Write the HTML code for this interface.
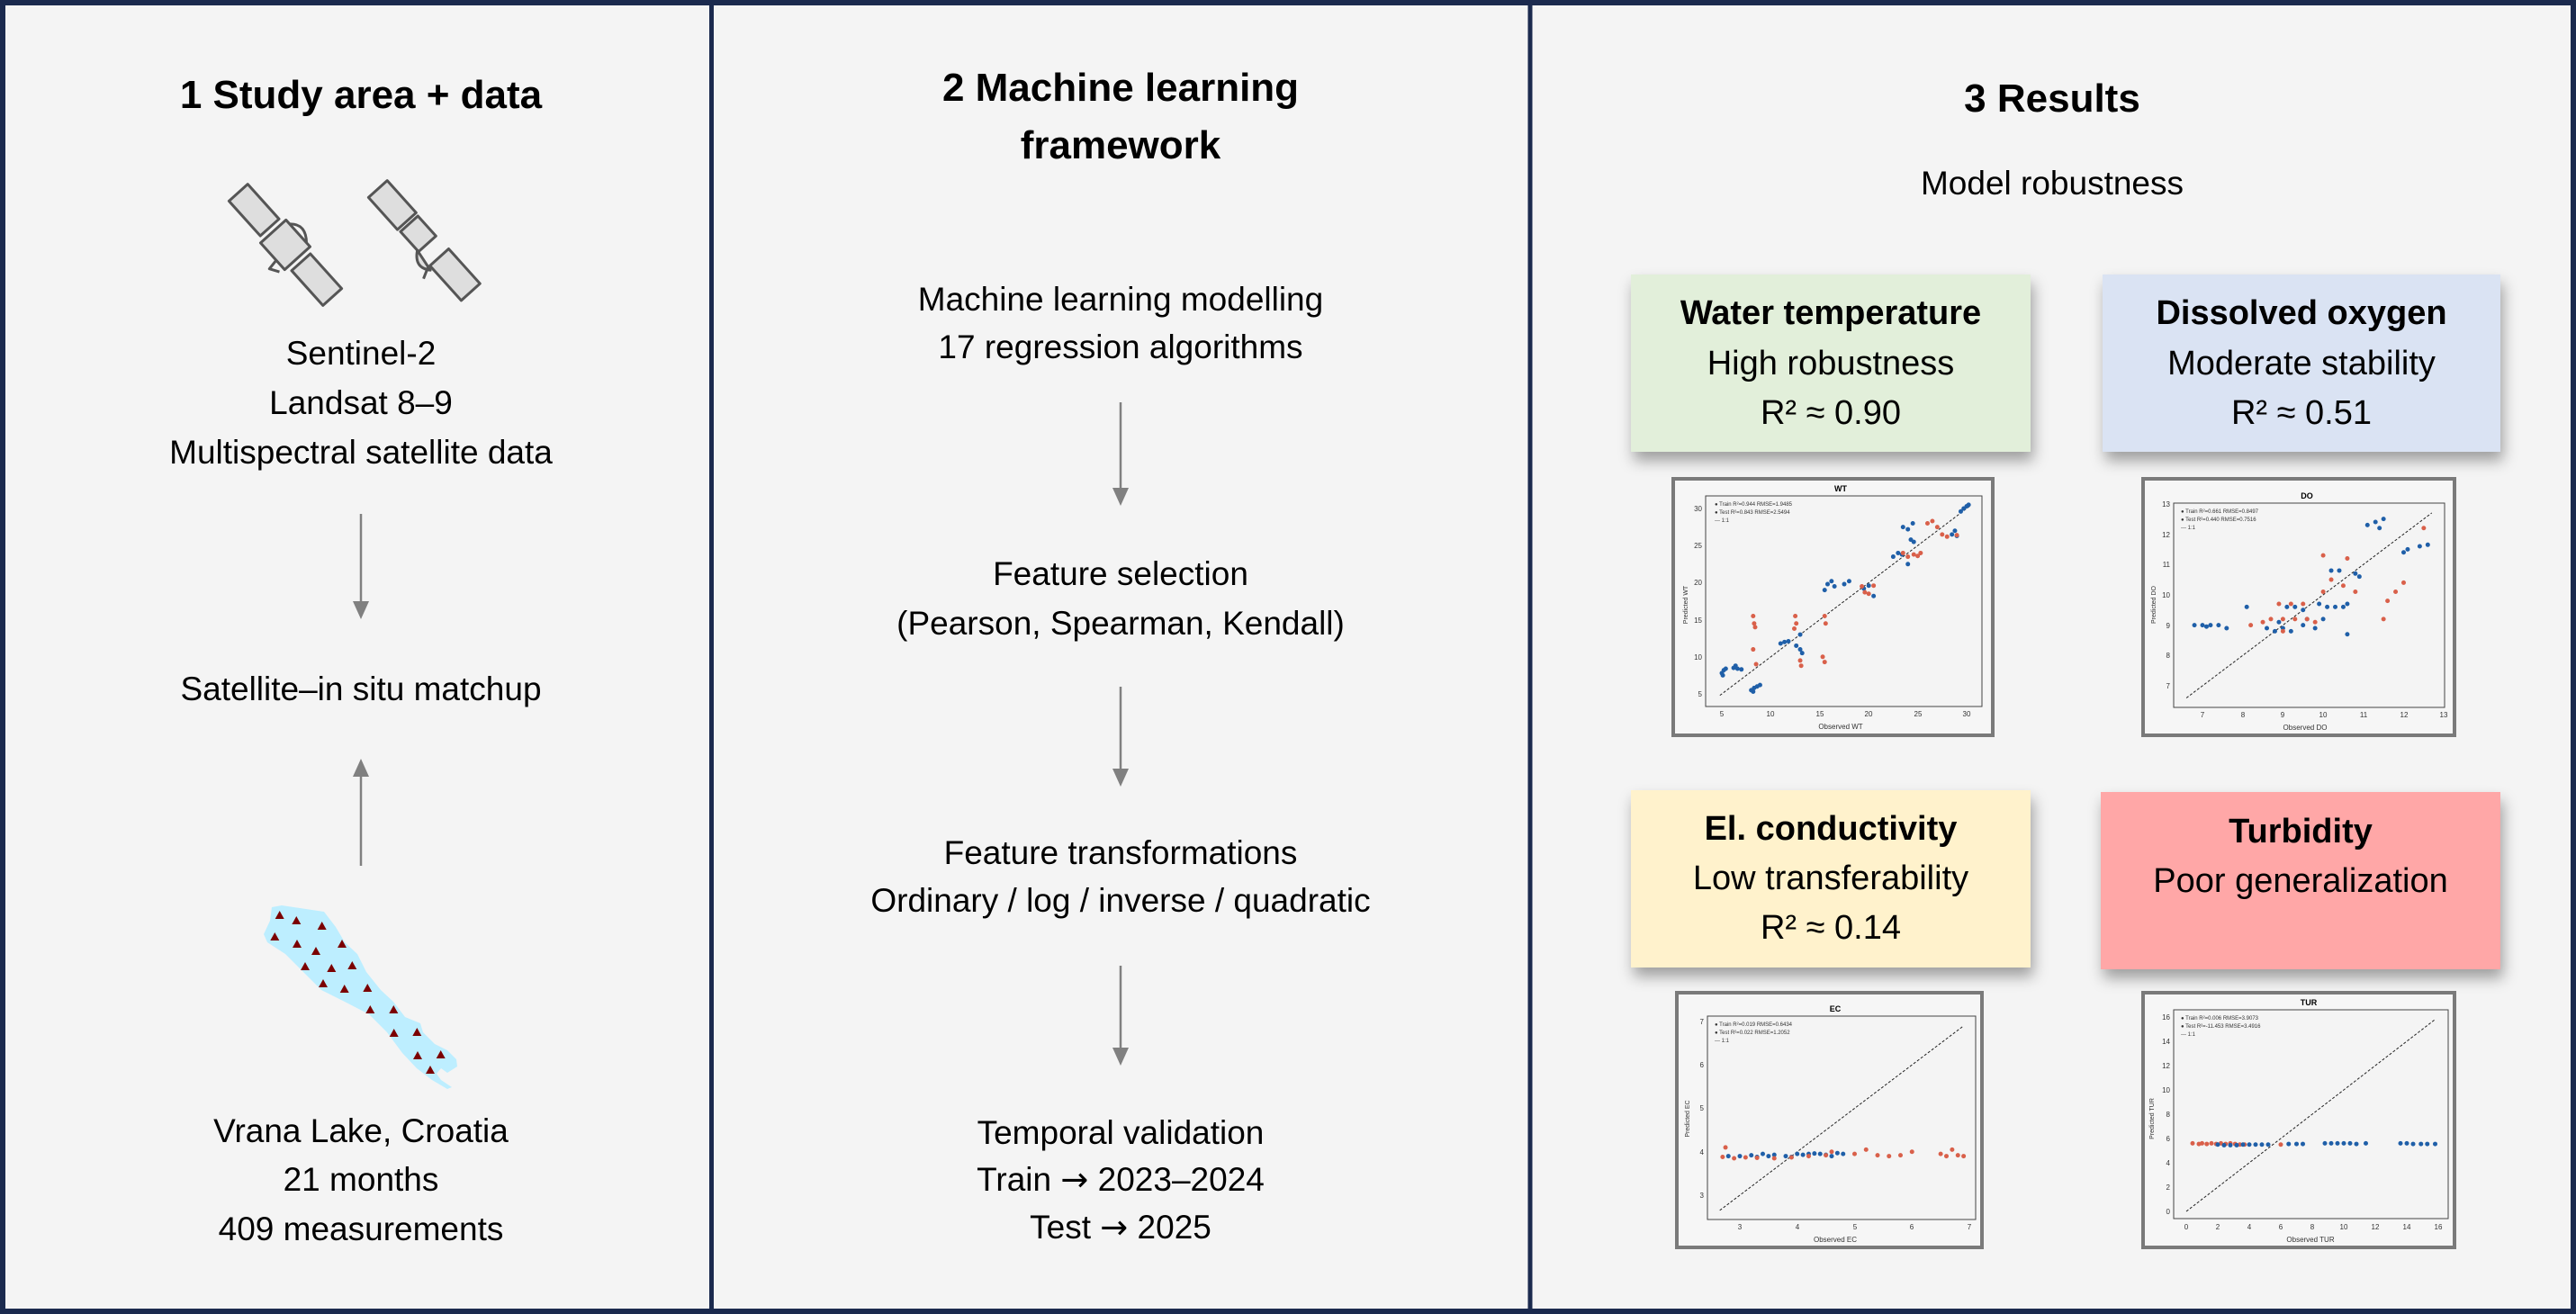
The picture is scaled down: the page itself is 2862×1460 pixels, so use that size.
<!DOCTYPE html>
<html><head><meta charset="utf-8"><style>
html,body{margin:0;padding:0;background:#f4f4f4;}
svg{display:block;}
text{font-family:"Liberation Sans",sans-serif;}
.arr{font-family:"DejaVu Sans",sans-serif;}
</style></head><body>
<svg width="2862" height="1460" viewBox="0 0 2862 1460" xmlns="http://www.w3.org/2000/svg">
<defs>
<filter id="sh" x="-10%" y="-10%" width="130%" height="140%"><feDropShadow dx="3" dy="10" stdDeviation="8" flood-color="#000" flood-opacity="0.35"/></filter>
</defs>
<rect x="0" y="0" width="2862" height="1460" fill="#f4f4f4"/>
<rect x="3" y="3" width="2856" height="1454" fill="none" stroke="#1b2a4e" stroke-width="6"/>
<line x1="790.5" y1="0" x2="790.5" y2="1460" stroke="#1b2a4e" stroke-width="5"/>
<line x1="1700" y1="0" x2="1700" y2="1460" stroke="#1b2a4e" stroke-width="5"/>

<!-- Panel 1 -->
<text x="401" y="120" font-size="44" font-weight="bold" text-anchor="middle">1 Study area + data</text>
<g fill="#dedede" stroke="#555" stroke-width="3" stroke-linejoin="round">
 <g transform="translate(317,272) rotate(-42)">
  <rect x="-14" y="-78" width="28" height="52"/>
  <rect x="-19" y="-20" width="38" height="40"/>
  <rect x="-14" y="26" width="28" height="52"/>
  <path d="M19 -14 q14 12 0 28" fill="none"/>
  <path d="M-19 6 l-12 2 l6 10" fill="none"/>
 </g>
 <g transform="translate(472,268) rotate(-42)">
  <rect x="-14" y="-78" width="28" height="48"/>
  <rect x="-13" y="-26" width="26" height="30"/>
  <rect x="-14" y="24" width="28" height="52"/>
  <path d="M-13 2 q-16 12 -4 26 z"/>
  <path d="M-17 24 l-12 6" fill="none"/>
 </g>
</g>
<g font-size="37" text-anchor="middle" fill="#000">
<text x="401" y="405">Sentinel-2</text>
<text x="401" y="460">Landsat 8–9</text>
<text x="401" y="515">Multispectral satellite data</text>
<text x="401" y="778">Satellite–in situ matchup</text>
<text x="401" y="1269">Vrana Lake, Croatia</text>
<text x="401" y="1323">21 months</text>
<text x="401" y="1378">409 measurements</text>
</g>
<g stroke="#808080" stroke-width="2.5" fill="#808080">
<line x1="401" y1="571" x2="401" y2="672"/><path d="M392 668 L410 668 L401 688 Z" stroke="none"/>
<line x1="401" y1="962" x2="401" y2="859"/><path d="M392 863 L410 863 L401 843 Z" stroke="none"/>
</g>
<path d="M302 1008 L313 1006 L360 1013 L373 1030 L383 1047 L397 1060 L407 1080 L423 1100 L437 1113 L450 1130 L467 1137 L470 1147 L483 1160 L497 1167 L507 1177 L508 1185 L497 1192 L490 1187 L485 1193 L490 1200 L502 1208 L497 1210 L480 1200 L463 1187 L447 1170 L430 1147 L410 1127 L383 1113 L357 1100 L337 1080 L317 1060 L297 1047 L293 1038 L300 1023 Z" fill="#bdeeff"/>
<g fill="#7b0000">
<path d="M310.7 1012l5 9h-10z M329.3 1018l5 9h-10z M357.7 1024l5 9h-10z M305.3 1036l5 9h-10z M330 1044l5 9h-10z M351 1052l5 9h-10z M380 1044l5 9h-10z M339 1069l5 9h-10z M368.3 1071l5 9h-10z M391.3 1068l5 9h-10z M359 1088l5 9h-10z M382.7 1094l5 9h-10z M408.3 1093l5 9h-10z M411.3 1117l5 9h-10z M437.3 1117l5 9h-10z M437.7 1143l5 9h-10z M463.3 1142l5 9h-10z M464 1168l5 9h-10z M489.7 1167l5 9h-10z M478 1184l5 9h-10z"/>
</g>

<!-- Panel 2 -->
<g text-anchor="middle" fill="#000">
<text x="1245" y="112" font-size="44" font-weight="bold">2 Machine learning</text>
<text x="1245" y="176" font-size="44" font-weight="bold">framework</text>
<g font-size="37">
<text x="1245" y="345">Machine learning modelling</text>
<text x="1245" y="398">17 regression algorithms</text>
<text x="1245" y="650">Feature selection</text>
<text x="1245" y="705">(Pearson, Spearman, Kendall)</text>
<text x="1245" y="960">Feature transformations</text>
<text x="1245" y="1013">Ordinary / log / inverse / quadratic</text>
<text x="1245" y="1271">Temporal validation</text>
<text x="1245" y="1323">Train <tspan class="arr">→</tspan> 2023–2024</text>
<text x="1245" y="1376">Test <tspan class="arr">→</tspan> 2025</text>
</g></g>
<g stroke="#808080" stroke-width="2.5" fill="#808080">
<line x1="1245" y1="447" x2="1245" y2="546"/><path d="M1236 542 L1254 542 L1245 562 Z" stroke="none"/>
<line x1="1245" y1="763" x2="1245" y2="858"/><path d="M1236 854 L1254 854 L1245 874 Z" stroke="none"/>
<line x1="1245" y1="1073" x2="1245" y2="1168"/><path d="M1236 1164 L1254 1164 L1245 1184 Z" stroke="none"/>
</g>

<!-- Panel 3 -->
<text x="2280" y="124" font-size="44" font-weight="bold" text-anchor="middle">3 Results</text>
<text x="2280" y="216" font-size="37" text-anchor="middle">Model robustness</text>

<g filter="url(#sh)">
<rect x="1812" y="305" width="444" height="197" fill="#e2efda"/>
<rect x="2336" y="305" width="442" height="197" fill="#dae3f3"/>
<rect x="1812" y="878" width="444" height="197" fill="#fff2cc"/>
<rect x="2334" y="880" width="444" height="197" fill="#ffa7a7"/>
</g>
<g text-anchor="middle" font-size="38">
<text x="2034" y="360" font-weight="bold">Water temperature</text>
<text x="2034" y="416">High robustness</text>
<text x="2034" y="471">R² ≈ 0.90</text>
<text x="2557" y="360" font-weight="bold">Dissolved oxygen</text>
<text x="2557" y="416">Moderate stability</text>
<text x="2557" y="471">R² ≈ 0.51</text>
<text x="2034" y="933" font-weight="bold">El. conductivity</text>
<text x="2034" y="988">Low transferability</text>
<text x="2034" y="1043">R² ≈ 0.14</text>
<text x="2556" y="936" font-weight="bold">Turbidity</text>
<text x="2556" y="991">Poor generalization</text>
</g>

<!-- WT plot -->
<g transform="translate(1859,532)">
<rect x="0" y="0" width="355" height="285" fill="#f6f6f6" stroke="#7a7a7a" stroke-width="4"/>
<rect x="36" y="19" width="307" height="234" fill="#f4f4f4" stroke="#444" stroke-width="1"/>
<text x="186" y="14" font-size="9" font-weight="bold" text-anchor="middle">WT</text>
<g font-size="8" fill="#333" text-anchor="middle"><text x="54" y="264">5</text><text x="108" y="264">10</text><text x="163" y="264">15</text><text x="217" y="264">20</text><text x="272" y="264">25</text><text x="326" y="264">30</text><text x="186" y="278">Observed WT</text></g>
<g font-size="8" fill="#333" text-anchor="end"><text x="32" y="242">5</text><text x="32" y="201">10</text><text x="32" y="160">15</text><text x="32" y="118">20</text><text x="32" y="77">25</text><text x="32" y="36">30</text></g>
<text x="16" y="140" font-size="7" fill="#333" transform="rotate(-90 16 140)" text-anchor="middle">Predicted WT</text>
<g font-size="6" fill="#333"><text x="46" y="30">●  Train R²=0.944 RMSE=1.9485</text><text x="46" y="39">●  Test R²=0.843 RMSE=2.5494</text><text x="46" y="48">---  1:1</text></g>
<g transform="translate(54,239) scale(10.88,-8.24) translate(-5,-5)">
<line x1="4.8" y1="4.8" x2="30.3" y2="30.3" stroke="#222" stroke-width="1" stroke-dasharray="3 2" vector-effect="non-scaling-stroke"/>
<path vector-effect="non-scaling-stroke" stroke="#1f5fa8" stroke-width="5" stroke-linecap="round" fill="none" d="M5 7.8h0M5.2 8.2h0M5.4 8.4h0M5.1 7.5h0M6.2 8.5h0M6.6 8.4h0M7 8.3h0M6.4 8.8h0M8 5.5h0M8.3 5.8h0M8.6 6h0M8.9 6.2h0M8.2 5.3h0M11 11.8h0M11.4 12h0M11.8 12.1h0M12.6 11.5h0M13 11h0M13.2 10.5h0M13 13h0M15.5 19h0M15.8 19.8h0M16.2 20.2h0M16.5 19.5h0M17.5 19.8h0M18 20.2h0M19.5 19.2h0M20 19.6h0M20.5 18.2h0M22.5 23.5h0M23 24h0M23.4 23.8h0M24.3 25.8h0M24.6 25.5h0M23.5 27.5h0M24 27.2h0M24.5 28h0M28.5 26.5h0M29 26.3h0M28.8 27h0M29.7 30h0M30 30.3h0M30.2 30.5h0M29.4 29.6h0M24 22.5h0"/>
<path vector-effect="non-scaling-stroke" stroke="#d9604a" stroke-width="5" stroke-linecap="round" fill="none" d="M8.2 15.5h0M8.3 14.5h0M8.4 14h0M8.2 11h0M8.5 9h0M12.5 15.5h0M12.6 14.5h0M12.4 13.8h0M13 9.5h0M13.1 8.8h0M15.5 15.5h0M15.6 14.5h0M15.3 10h0M15.5 9.3h0M19.3 19.5h0M19.6 18.7h0M20 18.5h0M20.5 19.6h0M23.5 24h0M24 23.5h0M24.6 23.8h0M25 23.6h0M25.3 24h0M26 28h0M26.5 28.3h0M27 27.5h0M27.5 26.5h0M28 26.2h0M29 26.4h0"/>
</g></g>

<!-- DO plot -->
<g transform="translate(2381,532)">
<rect x="0" y="0" width="346" height="285" fill="#f6f6f6" stroke="#7a7a7a" stroke-width="4"/>
<rect x="34" y="27" width="301" height="227" fill="#f4f4f4" stroke="#444" stroke-width="1"/>
<text x="182" y="22" font-size="9" font-weight="bold" text-anchor="middle">DO</text>
<g font-size="8" fill="#333" text-anchor="middle"><text x="66" y="265">7</text><text x="111" y="265">8</text><text x="155" y="265">9</text><text x="200" y="265">10</text><text x="245" y="265">11</text><text x="290" y="265">12</text><text x="334" y="265">13</text><text x="180" y="279">Observed DO</text></g>
<g font-size="8" fill="#333" text-anchor="end"><text x="30" y="233">7</text><text x="30" y="199">8</text><text x="30" y="166">9</text><text x="30" y="132">10</text><text x="30" y="98">11</text><text x="30" y="65">12</text><text x="30" y="31">13</text></g>
<text x="14" y="140" font-size="7" fill="#333" transform="rotate(-90 14 140)" text-anchor="middle">Predicted DO</text>
<g font-size="6" fill="#333"><text x="42" y="38">●  Train R²=0.661 RMSE=0.8497</text><text x="42" y="47">●  Test R²=0.440 RMSE=0.7516</text><text x="42" y="56">---  1:1</text></g>
<g transform="translate(66,230) scale(44.7,-33.7) translate(-7,-7)">
<line x1="6.6" y1="6.6" x2="12.7" y2="12.7" stroke="#222" stroke-width="1" stroke-dasharray="3 2" vector-effect="non-scaling-stroke"/>
<path vector-effect="non-scaling-stroke" stroke="#1f5fa8" stroke-width="5" stroke-linecap="round" fill="none" d="M6.8 9h0M7 9h0M7.1 8.95h0M7.2 9h0M7.4 9h0M7.6 8.9h0M8.1 9.6h0M8.6 8.9h0M8.8 8.8h0M9 8.9h0M9.2 8.8h0M9.5 9h0M9.8 8.9h0M9.1 9.6h0M9.3 9.6h0M9.5 9.5h0M9.9 9.7h0M10.1 9.6h0M10.3 9.6h0M10.5 9.6h0M10.6 9.7h0M10.2 10.8h0M10.4 10.8h0M10.8 10.7h0M10.9 10.6h0M11.1 12.3h0M11.3 12.4h0M11.5 12.5h0M11.4 12.2h0M12 11.4h0M12.1 11.5h0M12.4 11.6h0M12.6 11.65h0M9.6 9.2h0M10 9.2h0M8.9 9.1h0M10.6 8.7h0"/>
<path vector-effect="non-scaling-stroke" stroke="#d9604a" stroke-width="5" stroke-linecap="round" fill="none" d="M8.2 9h0M8.5 9.1h0M8.7 9.2h0M9 9.2h0M9.3 9.2h0M9.6 9.2h0M8.9 9.7h0M9.2 9.7h0M9.5 9.7h0M9.8 9.1h0M10 10.1h0M10.2 10.5h0M10.5 10.3h0M10.8 10.1h0M10 11.3h0M10.6 11.2h0M11.6 9.8h0M11.8 10.1h0M11.5 9.2h0M12 10.4h0M12.5 12.2h0M9 8.8h0"/>
</g></g>

<!-- EC plot -->
<g transform="translate(1863,1103)">
<rect x="0" y="0" width="339" height="283" fill="#f6f6f6" stroke="#7a7a7a" stroke-width="4"/>
<rect x="34" y="26" width="298" height="226" fill="#f4f4f4" stroke="#444" stroke-width="1"/>
<text x="176" y="21" font-size="9" font-weight="bold" text-anchor="middle">EC</text>
<g font-size="8" fill="#333" text-anchor="middle"><text x="70" y="263">3</text><text x="134" y="263">4</text><text x="198" y="263">5</text><text x="261" y="263">6</text><text x="325" y="263">7</text><text x="176" y="277">Observed EC</text></g>
<g font-size="8" fill="#333" text-anchor="end"><text x="30" y="228">3</text><text x="30" y="180">4</text><text x="30" y="131">5</text><text x="30" y="83">6</text><text x="30" y="35">7</text></g>
<text x="14" y="140" font-size="7" fill="#333" transform="rotate(-90 14 140)" text-anchor="middle">Predicted EC</text>
<g font-size="6" fill="#333"><text x="42" y="37">●  Train R²=0.019 RMSE=0.6434</text><text x="42" y="46">●  Test R²=0.022 RMSE=1.2052</text><text x="42" y="55">---  1:1</text></g>
<g transform="translate(70,225) scale(63.75,-48.25) translate(-3,-3)">
<line x1="2.65" y1="2.65" x2="6.9" y2="6.9" stroke="#222" stroke-width="1" stroke-dasharray="3 2" vector-effect="non-scaling-stroke"/>
<path vector-effect="non-scaling-stroke" stroke="#1f5fa8" stroke-width="5" stroke-linecap="round" fill="none" d="M2.8 3.9h0M3 3.9h0M3.2 3.92h0M3.3 3.88h0M3.4 3.95h0M3.5 3.9h0M3.6 3.93h0M3.8 3.9h0M4 3.95h0M4.1 3.93h0M4.2 3.95h0M4.3 3.96h0M4.4 3.95h0M4.5 3.93h0M4.6 3.9h0M4.7 3.97h0M4.8 3.95h0M3.9 3.88h0"/>
<path vector-effect="non-scaling-stroke" stroke="#d9604a" stroke-width="5" stroke-linecap="round" fill="none" d="M2.7 3.88h0M2.75 4.1h0M2.9 3.85h0M3.1 3.87h0M3.3 3.86h0M3.6 3.85h0M3.9 3.87h0M4.2 3.9h0M4.5 3.92h0M4.6 4h0M5 3.95h0M5.2 4.05h0M5.4 3.92h0M5.6 3.9h0M5.8 3.92h0M6 4h0M6.5 3.95h0M6.7 4.05h0M6.8 3.92h0M6.9 3.9h0M6.6 3.9h0"/>
</g></g>

<!-- TUR plot -->
<g transform="translate(2381,1103)">
<rect x="0" y="0" width="346" height="283" fill="#f6f6f6" stroke="#7a7a7a" stroke-width="4"/>
<rect x="34" y="19" width="305" height="232" fill="#f4f4f4" stroke="#444" stroke-width="1"/>
<text x="184" y="14" font-size="9" font-weight="bold" text-anchor="middle">TUR</text>
<g font-size="8" fill="#333" text-anchor="middle"><text x="48" y="263">0</text><text x="83" y="263">2</text><text x="118" y="263">4</text><text x="153" y="263">6</text><text x="188" y="263">8</text><text x="223" y="263">10</text><text x="258" y="263">12</text><text x="293" y="263">14</text><text x="328" y="263">16</text><text x="186" y="277">Observed TUR</text></g>
<g font-size="8" fill="#333" text-anchor="end"><text x="30" y="246">0</text><text x="30" y="219">2</text><text x="30" y="192">4</text><text x="30" y="165">6</text><text x="30" y="138">8</text><text x="30" y="111">10</text><text x="30" y="84">12</text><text x="30" y="57">14</text><text x="30" y="30">16</text></g>
<text x="12" y="140" font-size="7" fill="#333" transform="rotate(-90 12 140)" text-anchor="middle">Predicted TUR</text>
<g font-size="6" fill="#333"><text x="42" y="30">●  Train R²=0.006 RMSE=3.9073</text><text x="42" y="39">●  Test R²=-11.453 RMSE=3.4916</text><text x="42" y="48">---  1:1</text></g>
<g transform="translate(48,243) scale(17.5,-13.5)">
<line x1="0" y1="0" x2="15.8" y2="15.8" stroke="#222" stroke-width="1" stroke-dasharray="3 2" vector-effect="non-scaling-stroke"/>
<path vector-effect="non-scaling-stroke" stroke="#d9604a" stroke-width="5" stroke-linecap="round" fill="none" d="M0.4 5.6h0M0.8 5.55h0M1 5.6h0M1.3 5.55h0M1.6 5.6h0M1.9 5.55h0M2.2 5.6h0M2.5 5.55h0M2.8 5.6h0M3.1 5.55h0M3.4 5.5h0M3.7 5.5h0M6 5.5h0"/>
<path vector-effect="non-scaling-stroke" stroke="#1f5fa8" stroke-width="5" stroke-linecap="round" fill="none" d="M2 5.5h0M2.4 5.45h0M2.8 5.45h0M3.2 5.45h0M3.6 5.5h0M4 5.5h0M4.4 5.5h0M4.8 5.5h0M5.2 5.5h0M6.5 5.55h0M7 5.55h0M7.4 5.55h0M8.8 5.6h0M9.2 5.6h0M9.6 5.6h0M10 5.6h0M10.4 5.6h0M10.8 5.55h0M11.4 5.6h0M13.6 5.6h0M14 5.6h0M14.4 5.55h0M14.9 5.55h0M15.3 5.55h0M15.8 5.55h0"/>
</g></g>
</svg>
</body></html>
